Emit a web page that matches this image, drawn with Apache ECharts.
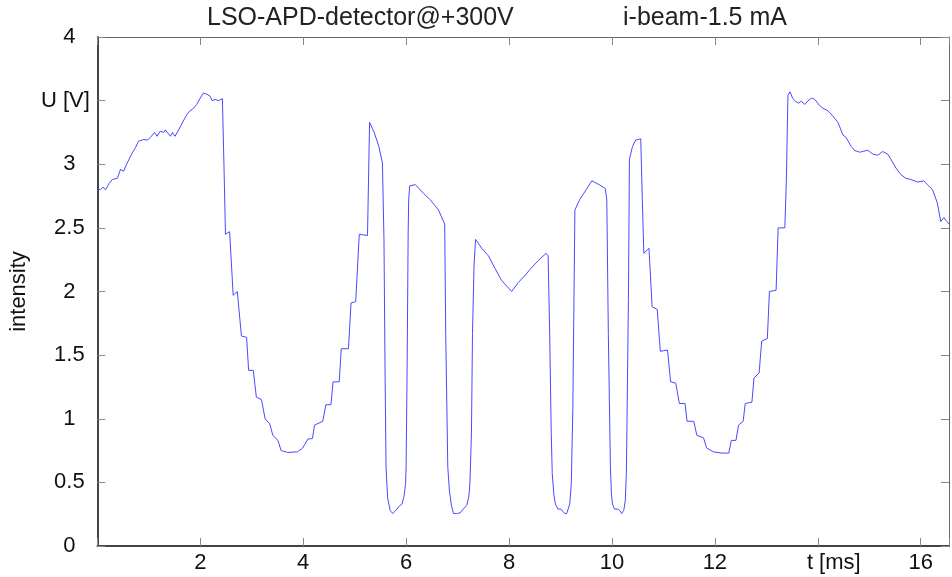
<!DOCTYPE html>
<html>
<head>
<meta charset="utf-8">
<script src="https://cdn.jsdelivr.net/npm/echarts@6/dist/echarts.min.js"></script>
<style>
  html, body { margin: 0; padding: 0; background: #fff; }
  #chart { width: 952px; height: 577px; }
</style>
</head>
<body>
<div id="chart"></div>
<script>
// time axis (ms)
var tValues = [
  0, 0.06, 0.11, 0.16, 0.23, 0.29, 0.39, 0.45, 0.51, 0.58,
  0.68, 0.74, 0.80, 0.90, 0.97, 1.03, 1.11, 1.16, 1.22, 1.29,
  1.32, 1.42, 1.46, 1.51, 1.58, 1.67, 1.74, 1.80, 1.87, 1.93,
  2.00, 2.06, 2.13, 2.19, 2.23, 2.29, 2.35, 2.43, 2.46, 2.49,

  2.57, 2.64, 2.72, 2.80, 2.90, 2.94, 3.03, 3.09, 3.19, 3.26,
  3.35, 3.41, 3.51, 3.57, 3.70, 3.89, 3.99, 4.09, 4.18, 4.22,
  4.38, 4.44, 4.54, 4.58, 4.70, 4.74, 4.88, 4.93, 5.02, 5.09,
  5.25, 5.29, 5.38, 5.47, 5.54, 5.57, 5.59, 5.61, 5.64, 5.69,

  5.74, 5.80, 5.86, 5.92, 5.96, 5.99, 6.00, 6.02, 6.04, 6.05,
  6.07, 6.18, 6.34, 6.47, 6.63, 6.75, 6.77, 6.81, 6.84, 6.88,
  6.92, 6.98, 7.05, 7.11, 7.18, 7.22, 7.24, 7.27, 7.29, 7.32,
  7.35, 7.47, 7.60, 7.73, 7.85, 8.05, 8.18, 8.34, 8.40, 8.56,

  8.72, 8.76, 8.79, 8.82, 8.84, 8.87, 8.90, 8.95, 9.01, 9.08,
  9.12, 9.18, 9.21, 9.24, 9.26, 9.28, 9.37, 9.50, 9.61, 9.75,
  9.87, 9.90, 9.93, 9.97, 9.99, 10.01, 10.05, 10.11, 10.15, 10.19,
  10.23, 10.26, 10.28, 10.29, 10.32, 10.34, 10.40, 10.46, 10.56, 10.59,

  10.62, 10.72, 10.78, 10.88, 10.94, 11.08, 11.14, 11.24, 11.31, 11.42,
  11.46, 11.59, 11.65, 11.78, 11.84, 11.97, 12.14, 12.27, 12.32, 12.41,
  12.46, 12.55, 12.59, 12.72, 12.76, 12.86, 12.91, 13.02, 13.06, 13.19,
  13.23, 13.36, 13.39, 13.42, 13.46, 13.51, 13.55, 13.62, 13.68, 13.75,

  13.81, 13.88, 13.94, 13.97, 14.04, 14.10, 14.20, 14.29, 14.39, 14.49,
  14.55, 14.65, 14.71, 14.81, 14.87, 14.97, 15.07, 15.16, 15.26, 15.36,
  15.42, 15.52, 15.61, 15.71, 15.81, 15.94, 16.06, 16.13, 16.23, 16.32,
  16.39, 16.45, 16.51, 16.55
]
// detector voltage U [V]
var uValues = [
  2.81, 2.80, 2.82, 2.80, 2.85, 2.88, 2.89, 2.96, 2.945, 3.01,
  3.09, 3.13, 3.18, 3.195, 3.19, 3.21, 3.25, 3.22, 3.26, 3.25,
  3.27, 3.22, 3.25, 3.22, 3.27, 3.34, 3.39, 3.42, 3.44, 3.47,
  3.52, 3.56, 3.55, 3.535, 3.50, 3.51, 3.50, 3.515, 3.00, 2.45,

  2.47, 1.97, 2.00, 1.65, 1.64, 1.38, 1.38, 1.17, 1.15, 1.00,
  0.96, 0.87, 0.83, 0.75, 0.735, 0.74, 0.77, 0.84, 0.845, 0.95,
  0.98, 1.11, 1.11, 1.29, 1.29, 1.55, 1.55, 1.91, 1.92, 2.45,
  2.44, 3.33, 3.25, 3.14, 3.01, 2.41, 1.41, 0.62, 0.38, 0.28,

  0.255, 0.28, 0.31, 0.33, 0.39, 0.49, 0.62, 1.41, 2.46, 2.72,
  2.83, 2.84, 2.77, 2.72, 2.64, 2.53, 1.67, 0.62, 0.44, 0.32,
  0.255, 0.255, 0.26, 0.29, 0.32, 0.39, 0.49, 0.89, 1.67, 2.20,
  2.41, 2.34, 2.28, 2.18, 2.09, 2.00, 2.07, 2.14, 2.17, 2.24,

  2.30, 2.28, 1.67, 0.89, 0.57, 0.41, 0.33, 0.29, 0.29, 0.255,
  0.255, 0.33, 0.49, 1.08, 1.87, 2.64, 2.72, 2.80, 2.87, 2.84,
  2.81, 2.72, 1.67, 0.62, 0.41, 0.33, 0.29, 0.29, 0.28, 0.255,
  0.28, 0.36, 0.57, 0.89, 1.93, 3.04, 3.14, 3.19, 3.20, 2.72,

  2.30, 2.34, 1.88, 1.86, 1.53, 1.54, 1.29, 1.28, 1.12, 1.12,
  0.98, 0.98, 0.87, 0.85, 0.77, 0.74, 0.73, 0.73, 0.83, 0.83,
  0.95, 0.98, 1.12, 1.13, 1.32, 1.36, 1.61, 1.63, 2.00, 2.01,
  2.50, 2.50, 2.88, 3.54, 3.57, 3.52, 3.50, 3.48, 3.495, 3.47,

  3.50, 3.52, 3.51, 3.515, 3.46, 3.44, 3.42, 3.38, 3.33, 3.23,
  3.21, 3.14, 3.11, 3.095, 3.10, 3.11, 3.08, 3.07, 3.10, 3.08,
  3.04, 2.97, 2.92, 2.89, 2.88, 2.86, 2.87, 2.84, 2.80, 2.70,
  2.55, 2.58, 2.55, 2.53
]
var titleLeft = 'LSO-APD-detector@+300V'
var titleRight = 'i-beam-1.5 mA'
var yName = 'intensity'

var fontFam = '"Liberation Sans", Arial, sans-serif'
var points = tValues.map(function (t, i) { return [t, uValues[i]] })

var chart = echarts.init(document.getElementById('chart'))
chart.setOption({
  animation: false,
  backgroundColor: '#fff',
  title: [
    { text: titleLeft, left: 202, top: 1, textStyle: { fontFamily: fontFam, fontSize: 25, fontWeight: 'normal', color: '#222' } },
    { text: titleRight, left: 618, top: 1, textStyle: { fontFamily: fontFam, fontSize: 25, fontWeight: 'normal', color: '#222' } }
  ],
  grid: { left: 97, top: 37, width: 857, height: 509 },
  xAxis: [
    {
      type: 'value', min: 0, max: 16.55, interval: 2,
      axisLine: { onZero: false, lineStyle: { color: '#444', width: 2 } },
      axisTick: { inside: true, length: 8, lineStyle: { color: '#888' } },
      splitLine: { show: false },
      axisLabel: {
        margin: 6, color: '#111', fontFamily: fontFam, fontSize: 22,
        formatter: function (v) {
          if (v === 14) return '{tms|t [ms]}'
          if (v === 0 || v % 2 !== 0) return ''
          return String(v)
        },
        rich: { tms: { fontFamily: fontFam, fontSize: 22, color: '#111', padding: [0, 0, 0, 32] } }
      }
    },
    {
      type: 'value', position: 'top', min: 0, max: 16.55, interval: 2,
      axisLine: { onZero: false, lineStyle: { color: '#666', width: 1 } },
      axisTick: { inside: true, length: 8, lineStyle: { color: '#888' } },
      axisLabel: { show: false },
      splitLine: { show: false }
    }
  ],
  yAxis: [
    {
      type: 'value', min: 0, max: 4, interval: 0.5,
      name: yName, nameLocation: 'middle', nameGap: 67, nameRotate: 90,
      nameTextStyle: { fontFamily: fontFam, fontSize: 22, color: '#111' },
      axisLine: { show: true, onZero: false, lineStyle: { color: '#444', width: 2 } },
      axisTick: { show: true, inside: true, length: 8, lineStyle: { color: '#888' } },
      splitLine: { show: false },
      axisLabel: {
        margin: 28, align: 'center', color: '#111', fontFamily: fontFam, fontSize: 22,
        formatter: function (v) { return v === 3.5 ? '{uv|U [V]}' : String(v) },
        rich: { uv: { fontFamily: fontFam, fontSize: 22, color: '#111', padding: [0, 8, 0, 0] } }
      }
    },
    {
      type: 'value', position: 'right', min: 0, max: 4, interval: 0.5,
      axisLine: { show: true, onZero: false, lineStyle: { color: '#666', width: 1 } },
      axisTick: { show: true, inside: true, length: 8, lineStyle: { color: '#888' } },
      axisLabel: { show: false },
      splitLine: { show: false }
    }
  ],
  series: [
    {
      type: 'line',
      data: points,
      symbol: 'none',
      smooth: false,
      lineStyle: { color: '#4a4aff', width: 1 }
    }
  ]
})
</script>
</body>
</html>
